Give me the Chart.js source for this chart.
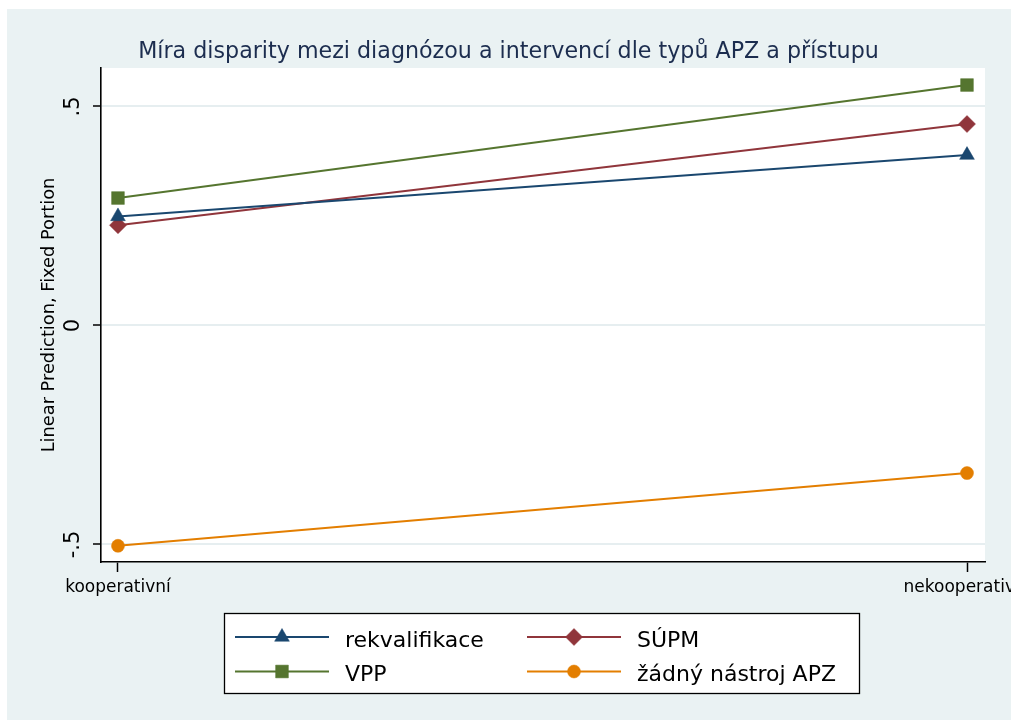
<!DOCTYPE html>
<html><head><meta charset="utf-8">
<script src="https://cdn.jsdelivr.net/npm/chart.js@4.4.1/dist/chart.umd.min.js"></script>
<style>html,body{margin:0;padding:0;background:#fff;} canvas{display:block;}</style>
</head><body>
<canvas id="c" width="1011" height="720"></canvas>
<script>
// ---- data ----
const categories = ['kooperativní', 'nekooperativní'];
const seriesNames = ['rekvalifikace', 'SÚPM', 'VPP', 'žádný nástroj APZ'];
const rekvalifikace = [0.249, 0.389];
const supm = [0.229, 0.460];
const vpp = [0.291, 0.549];
const zadny = [-0.503, -0.337];
const yTicks = [-0.5, 0, 0.5];
const yTickLabels = ['-.5', '0', '.5'];
const titleText = 'Míra disparity mezi diagnózou a intervencí dle typů APZ a přístupu';
const yTitle = 'Linear Prediction, Fixed Portion';

// ---- styles ----
const colors = ['#1a476f', '#90353b', '#55752f', '#e37e00'];
const styles = ['triangle', 'rectRot', 'rect', 'circle'];
const radii = [8.5, 8.5, 9, 6.5];
const seriesValues = [rekvalifikace, supm, vpp, zadny];
const BG = '#eaf2f3';
const FONT = "'DejaVu Sans', sans-serif";
Chart.defaults.font.family = FONT;

const datasets = seriesValues.map((vals, i) => ({
  label: seriesNames[i],
  data: vals.map((v, j) => ({x: j, y: v})),
  borderColor: colors[i],
  backgroundColor: colors[i],
  pointBackgroundColor: colors[i],
  pointBorderColor: colors[i],
  pointBorderWidth: 0.5,
  pointStyle: styles[i],
  pointRadius: radii[i],
  pointHoverRadius: radii[i],
  borderWidth: 2,
  tension: 0,
  fill: false
}));

const bgPlugin = {
  id: 'bg',
  beforeDraw(chart) {
    const ctx = chart.ctx, a = chart.chartArea;
    ctx.save();
    ctx.fillStyle = '#ffffff';
    ctx.fillRect(0, 0, chart.width, chart.height);
    ctx.fillStyle = BG;
    ctx.fillRect(7, 9, chart.width - 7, chart.height - 9);
    ctx.fillStyle = '#ffffff';
    ctx.fillRect(a.left, a.top, a.right - a.left, a.bottom - a.top);
    // title
    ctx.fillStyle = '#1c2d4f';
    ctx.font = '22.2px ' + FONT;
    ctx.textAlign = 'center';
    ctx.textBaseline = 'alphabetic';
    ctx.fillText(titleText, 508.5, 58);
    ctx.restore();
  }
};

function drawMarker(ctx, style, r, x, y, color) {
  ctx.save();
  ctx.fillStyle = color; ctx.strokeStyle = color; ctx.lineWidth = 0.5;
  if (Chart.helpers && Chart.helpers.drawPoint) {
    Chart.helpers.drawPoint(ctx, {pointStyle: style, radius: r, rotation: 0, borderWidth: 0.5}, x, y);
  } else {
    ctx.beginPath();
    ctx.arc(x, y, r, 0, Math.PI * 2);
    ctx.fill();
  }
  ctx.restore();
}

const legendPlugin = {
  id: 'customLegend',
  afterDraw(chart) {
    const ctx = chart.ctx;
    const bx = 224.5, by = 613.5, bw = 635, bh = 80;
    ctx.save();
    ctx.fillStyle = '#ffffff';
    ctx.fillRect(bx, by, bw, bh);
    ctx.strokeStyle = '#000000';
    ctx.lineWidth = 1.3;
    ctx.strokeRect(bx, by, bw, bh);
    const rowsY = [637, 671.5];
    const colX = [235, 527];
    chart.data.datasets.forEach((ds, i) => {
      const col = i % 2, row = Math.floor(i / 2);
      const x0 = colX[col], y = rowsY[row];
      ctx.strokeStyle = ds.borderColor;
      ctx.lineWidth = 2;
      ctx.beginPath();
      ctx.moveTo(x0, y); ctx.lineTo(x0 + 94, y);
      ctx.stroke();
      drawMarker(ctx, ds.pointStyle, ds.pointRadius, x0 + 47, y, ds.borderColor);
      ctx.fillStyle = '#000000';
      ctx.font = '22px ' + FONT;
      ctx.textAlign = 'left';
      ctx.textBaseline = 'alphabetic';
      ctx.fillText(ds.label, x0 + 110, y + 9.5);
    });
    ctx.restore();
  }
};

new Chart(document.getElementById('c'), {
  type: 'line',
  data: {datasets},
  plugins: [bgPlugin, legendPlugin],
  options: {
    responsive: false,
    animation: false,
    events: [],
    layout: {padding: {left: 0, right: 26, top: 68, bottom: 118}},
    plugins: {
      legend: {display: false},
      tooltip: {enabled: false},
      title: {display: false}
    },
    scales: {
      x: {
        type: 'linear',
        min: -0.02,
        max: 1.0212,
        afterBuildTicks(scale) { scale.ticks = categories.map((c, i) => ({value: i})); },
        afterFit(scale) { scale.height = 40; scale.paddingLeft = 0; scale.paddingRight = 0; },
        ticks: {
          autoSkip: false,
          maxRotation: 0, minRotation: 0,
          padding: 5,
          color: '#000',
          font: {size: 17},
          callback: (v) => categories[v] !== undefined ? categories[v] : ''
        },
        grid: {drawOnChartArea: false, drawTicks: true, tickLength: 10, tickColor: '#000', tickWidth: 1.5},
        border: {display: true, color: '#000', width: 1.6}
      },
      y: {
        type: 'linear',
        min: -0.54,
        max: 0.5879,
        afterBuildTicks(scale) { scale.ticks = yTicks.map(v => ({value: v})); },
        afterFit(scale) { scale.width = 101; scale.paddingTop = 0; scale.paddingBottom = 0; },
        ticks: {
          autoSkip: false,
          minRotation: 90, maxRotation: 90,
          crossAlign: 'center',
          padding: 6,
          color: '#000',
          font: {size: 21},
          callback: (v) => { const k = yTicks.indexOf(v); return k >= 0 ? yTickLabels[k] : ''; }
        },
        grid: {color: '#e6eef0', lineWidth: 2, drawTicks: true, tickLength: 8, tickColor: '#000', tickWidth: 1.5},
        border: {display: true, color: '#000', width: 1.6},
        title: {
          display: true,
          text: yTitle,
          color: '#000',
          font: {size: 17.8},
          padding: {top: 38.3, bottom: 0}
        }
      }
    }
  }
});
</script>
</body></html>
